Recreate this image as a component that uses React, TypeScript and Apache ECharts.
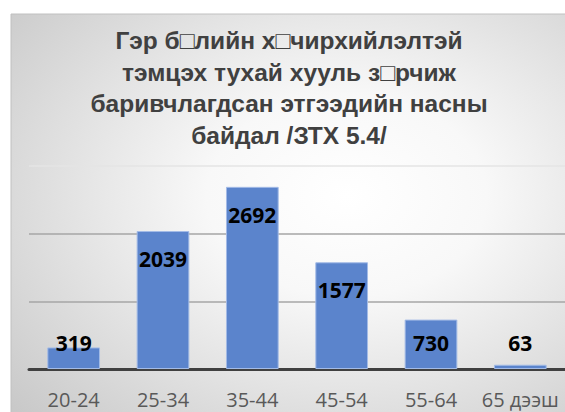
import React, { useEffect, useRef } from "react";
import * as echarts from "echarts";

const titleLines = [
  "Гэр б□лийн х□чирхийлэлтэй",
  "тэмцэх тухай хууль з□рчиж",
  "баривчлагдсан этгээдийн насны",
  "байдал /ЗТХ 5.4/",
];
const categories = ["20-24", "25-34", "35-44", "45-54", "55-64", "65 дээш"];
const values = [319, 2039, 2692, 1577, 730, 63];
const yMin = 0;
const yMax = 3000;
const yInterval = 1000;

export default function App() {
  const ref = useRef<HTMLDivElement>(null);
  useEffect(() => {
    if (!ref.current) return;
    const chart = echarts.init(ref.current, null, { renderer: "svg" });
    chart.setOption({
      animation: false,
      backgroundColor: "#ffffff",
      graphic: [
        {
          type: "rect",
          z: -1,
          silent: true,
          shape: { x: 11, y: 14, width: 560, height: 404 },
          style: {
            fill: {
              type: "radial",
              x: 0.6,
              y: 0.45,
              r: 1.0,
              colorStops: [
                { offset: 0, color: "#ffffff" },
                { offset: 0.25, color: "#f8f8f8" },
                { offset: 0.55, color: "#dedede" },
                { offset: 0.85, color: "#c4c4c4" },
                { offset: 1, color: "#b8b8b8" },
              ],
            },
            stroke: "#c0c0c0",
            lineWidth: 1,
          },
        },
      ],
      title: {
        text: titleLines.join("\n"),
        left: 289,
        top: 25,
        padding: 0,
        textAlign: "center",
        textStyle: {
          fontFamily: "Liberation Sans",
          fontSize: 24.5,
          fontWeight: "bold",
          color: "#404040",
          lineHeight: 31.5,
        },
      },
      grid: { left: 29, right: 0, top: 166, bottom: 43 },
      xAxis: {
        type: "category",
        data: categories,
        axisLine: { show: true, lineStyle: { color: "#404040", width: 3 } },
        axisTick: { show: false },
        axisLabel: {
          interval: 0,
          margin: 20,
          fontFamily: "Open Sans",
          fontSize: 20,
          color: "#595959",
        },
      },
      yAxis: {
        type: "value",
        min: yMin,
        max: yMax,
        interval: yInterval,
        axisLabel: { show: false },
        axisLine: { show: false },
        axisTick: { show: false },
        splitLine: {
          lineStyle: {
            color: ["#a0a0a0", "#a6a6a6", "#a6a6a6", "#e4e4e4"],
            width: 1.5,
          },
        },
      },
      series: [
        {
          type: "bar",
          data: values,
          barCategoryGap: "41%",
          itemStyle: {
            color: "#5b84cc",
            borderColor: "#a3bbe6",
            borderWidth: 1,
          },
          label: {
            show: true,
            position: "insideTop",
            fontFamily: "Open Sans",
            fontWeight: "bold",
            fontSize: 21,
            color: "#000000",
          },
          labelLayout: (p: any) => ({
            x: p.rect.x + p.rect.width / 2,
            y: Math.min(p.rect.y + 28, p.rect.y + p.rect.height - 26),
            align: "center",
            verticalAlign: "middle",
          }),
        },
      ],
    });
    return () => chart.dispose();
  }, []);
  return (
    <div
      ref={ref}
      style={{ position: "fixed", left: 0, top: 0, width: 565, height: 412 }}
    />
  );
}
